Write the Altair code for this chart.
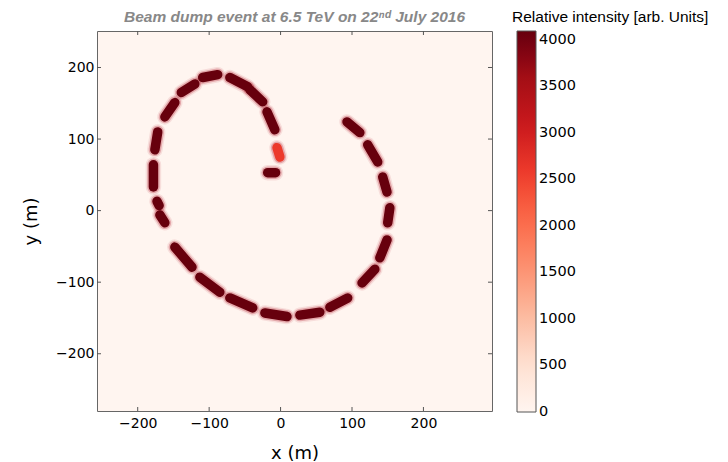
import altair as alt
import pandas as pd

# Bunch-train segments of the dump spiral (metres), start/end points and intensity
x_start = [-109, -139, -162, -176, -178, -173, -169, -148, -113, -71, -22, 27, 69, 114, 139, 150, 149, 136, 111, -71, -43, -19, -5, -18]
y_start = [186, 165, 131, 85, 33, 13, -6, -51, -93, -122, -143, -146, -135, -101, -66, -17, 26, 68, 109, 186, 169, 138, 88, 53]
x_end = [-88, -120, -148, -172, -178, -170, -162, -124, -85, -39, 9, 55, 94, 132, 149, 153, 143, 122, 93, -46, -25, -8, -1, -7]
y_end = [190, 177, 151, 110, 64, 7, -17, -79, -114, -136, -148, -142, -122, -82, -41, 4, 47, 92, 124, 173, 152, 113, 75, 53]
intensity = [4096] * 22 + [2600, 4096]

tick_values = [-200, -100, 0, 100, 200]
legend_values = [0, 500, 1000, 1500, 2000, 2500, 3000, 3500, 4000]
legend_title = ["Relative intensity [arb. Units]"]
chart_title = ["Beam dump event at 6.5 TeV on 22\u207f\u1d48 July 2016"]
reds = ["#fff5f0", "#fee0d2", "#fcbba1", "#fc9272", "#fb6a4a", "#ef3b2c", "#cb181d", "#a50f15", "#67000d"]

W, H = 395, 380
segs = pd.DataFrame({"x": x_start, "y": y_start, "x2": x_end, "y2": y_end, "v": intensity})
ticks = pd.DataFrame({"t": tick_values})
ltitle = pd.DataFrame({"t": legend_title})
ctitle = pd.DataFrame({"t": chart_title})

xs = alt.Scale(domain=[-257, 296], nice=False, zero=False)
ys = alt.Scale(domain=[-280, 251], nice=False, zero=False)
cs = alt.Scale(range=reds, domain=[-1, 4096])

x_axis = alt.Axis(values=tick_values, title="x (m)", labelPadding=5, titlePadding=14)
y_axis = alt.Axis(values=tick_values, title="y (m)", labelPadding=3, titlePadding=15)
legend = alt.Legend(
    title=None, values=legend_values, orient="none", legendX=420, legendY=0,
    direction="vertical", gradientLength=381, gradientThickness=19,
    gradientStrokeColor="#555555", gradientStrokeWidth=1, labelFontSize=14.5,
    labelFont="DejaVu Sans", labelColor="#000000", labelOffset=3,
    labelBaseline="middle", padding=0, format="d",
)

glow_col = "#b2182b"


def glow_layer(width, opacity):
    return alt.Chart(segs).mark_rule(strokeWidth=width, strokeCap="round", opacity=opacity,
                                     color=glow_col).encode(
        x=alt.X("x:Q", scale=xs, axis=x_axis),
        y=alt.Y("y:Q", scale=ys, axis=y_axis),
        x2="x2:Q",
        y2="y2:Q",
    )


glow1 = glow_layer(15.5, 0.10)
glow2 = glow_layer(12.5, 0.28)
core = alt.Chart(segs).mark_rule(strokeWidth=9.5, strokeCap="round").encode(
    x=alt.X("x:Q", scale=xs, axis=x_axis),
    y=alt.Y("y:Q", scale=ys, axis=y_axis),
    x2="x2:Q",
    y2="y2:Q",
    color=alt.Color("v:Q", scale=cs, legend=legend),
)

tick_col = "#555555"
xt_bot = alt.Chart(ticks).mark_rule(color=tick_col).encode(
    x=alt.X("t:Q", scale=xs, axis=x_axis), y=alt.value(H), y2=alt.value(H - 4))
xt_top = alt.Chart(ticks).mark_rule(color=tick_col).encode(
    x=alt.X("t:Q", scale=xs, axis=x_axis), y=alt.value(0), y2=alt.value(4))
yt_left = alt.Chart(ticks).mark_rule(color=tick_col).encode(
    y=alt.Y("t:Q", scale=ys, axis=y_axis), x=alt.value(0), x2=alt.value(4))
yt_right = alt.Chart(ticks).mark_rule(color=tick_col).encode(
    y=alt.Y("t:Q", scale=ys, axis=y_axis), x=alt.value(W), x2=alt.value(W - 4))

ltext = alt.Chart(ltitle).mark_text(
    align="left", baseline="top", fontSize=15.5, font="Liberation Sans", color="#000000"
).encode(text="t:N", x=alt.value(415), y=alt.value(-21))

ttext = alt.Chart(ctitle).mark_text(
    align="center", baseline="middle", fontSize=15.5, font="Liberation Sans",
    fontStyle="italic", fontWeight="bold", color="#888888"
).encode(text="t:N", x=alt.value(W / 2), y=alt.value(-14))

chart = alt.layer(glow1, glow2, core, xt_bot, xt_top, yt_left, yt_right, ltext, ttext).properties(
    width=W, height=H,
    autosize=alt.AutoSizeParams(type="none"),
    padding={"left": 89, "top": 23, "right": 228, "bottom": 50},
).configure_view(
    fill="#fff5f0", stroke="#666666", strokeWidth=1
).configure_axis(
    tickSize=0, domain=False, grid=False, labelFontSize=14, labelFont="DejaVu Sans",
    labelColor="#000000", titleFontSize=18, titleFont="DejaVu Sans",
    titleFontWeight="normal", titleColor="#000000",
)

chart.save("out.html", embed_options={"renderer": "svg", "actions": False})
